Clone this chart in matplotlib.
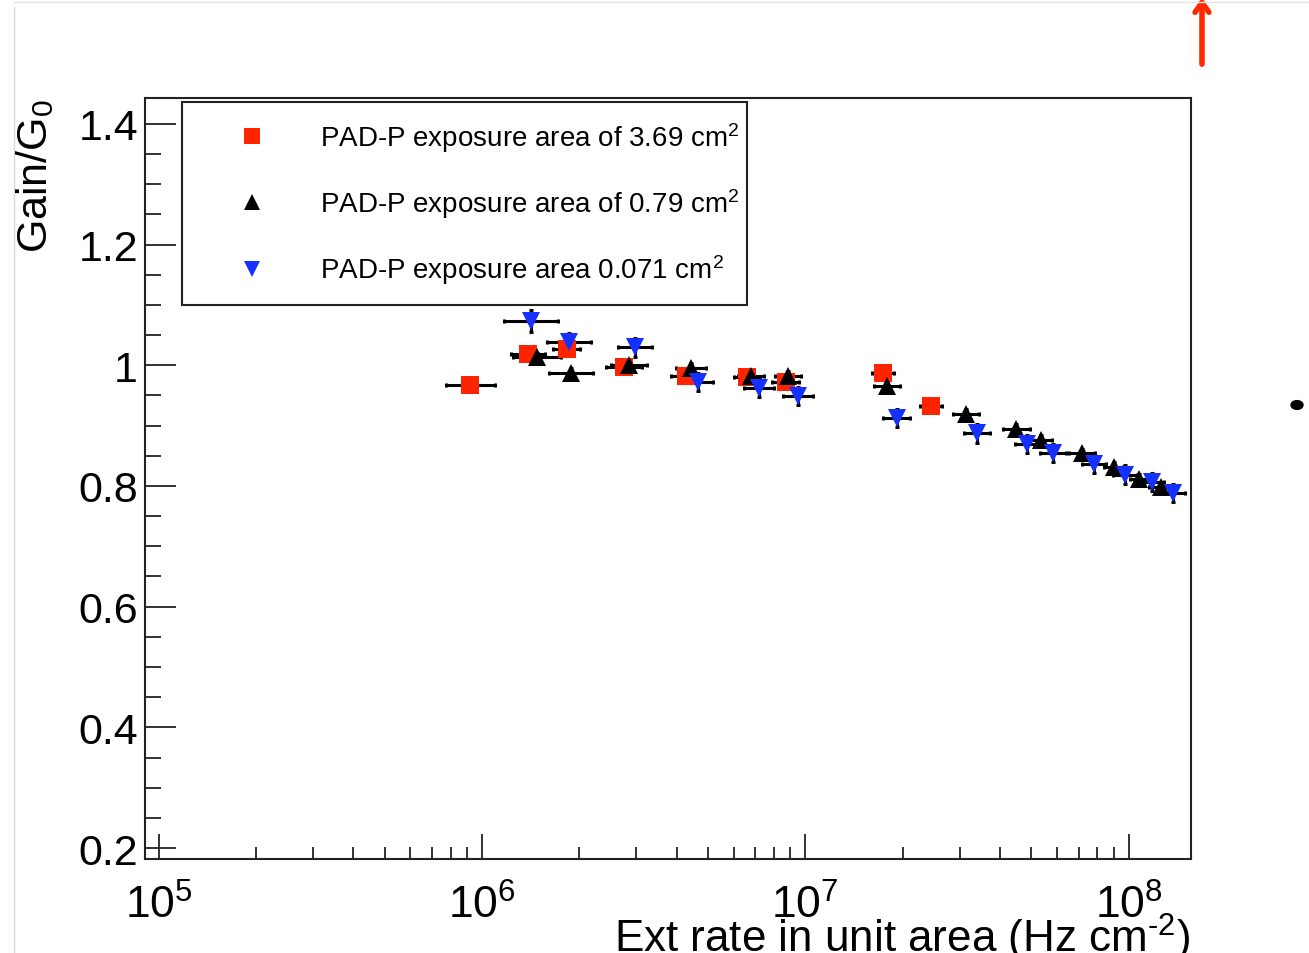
import numpy as np
import matplotlib
matplotlib.use('Agg')
import matplotlib.pyplot as plt
from matplotlib.lines import Line2D
from matplotlib.patches import FancyArrowPatch, Circle
from matplotlib.ticker import FixedLocator, NullFormatter, FixedFormatter

plt.rcParams['font.family'] = ['Liberation Sans', 'DejaVu Sans']
plt.rcParams['mathtext.fontset'] = 'custom'
plt.rcParams['mathtext.rm'] = 'Liberation Sans'
plt.rcParams['mathtext.it'] = 'Liberation Sans:italic'
plt.rcParams['mathtext.bf'] = 'Liberation Sans:bold'
plt.rcParams['mathtext.default'] = 'rm'

# ---------------- data ----------------
rate_a369 = [9.2e5, 1.39e6, 1.83e6, 2.75e6, 4.28e6, 6.6e6, 8.7e6, 1.74e7, 2.45e7]
gain_a369 = [0.967, 1.018, 1.027, 0.997, 0.982, 0.980, 0.972, 0.988, 0.932]
xrel_a369 = [0.19, 0.13, 0.10, 0.14, 0.11, 0.10, 0.10, 0.08, 0.08]
yerr_a369 = [0.008, 0.008, 0.008, 0.008, 0.008, 0.008, 0.008, 0.008, 0.008]

rate_a079 = [1.48e6, 1.88e6, 2.85e6, 4.43e6, 6.8e6, 8.85e6, 1.79e7, 3.14e7,
             4.49e7, 5.36e7, 7.18e7, 9.0e7, 1.08e8, 1.26e8]
gain_a079 = [1.013, 0.987, 1.000, 0.996, 0.983, 0.983, 0.966, 0.919,
             0.894, 0.877, 0.854, 0.832, 0.812, 0.798]
xrel_a079 = [0.19, 0.17, 0.14, 0.11, 0.10, 0.10, 0.10, 0.10,
             0.10, 0.08, 0.10, 0.07, 0.07, 0.09]
yerr_a079 = [0.008, 0.008, 0.008, 0.008, 0.008, 0.008, 0.008, 0.008,
             0.008, 0.008, 0.008, 0.008, 0.008, 0.008]

rate_a0071 = [1.42e6, 1.86e6, 2.97e6, 4.66e6, 7.2e6, 9.5e6, 1.92e7, 3.40e7,
              4.86e7, 5.84e7, 7.82e7, 9.75e7, 1.18e8, 1.37e8]
gain_a0071 = [1.073, 1.038, 1.030, 0.973, 0.963, 0.949, 0.912, 0.887,
              0.869, 0.854, 0.837, 0.819, 0.806, 0.789]
xrel_a0071 = [0.21, 0.17, 0.13, 0.11, 0.11, 0.11, 0.10, 0.10,
              0.09, 0.10, 0.09, 0.09, 0.09, 0.09]
yerr_a0071 = [0.018, 0.016, 0.016, 0.015, 0.015, 0.015, 0.015, 0.015,
              0.015, 0.015, 0.015, 0.015, 0.015, 0.015]

labels = ['PAD-P exposure area of 3.69 cm$^{2}$',
          'PAD-P exposure area of 0.79 cm$^{2}$',
          'PAD-P exposure area 0.071 cm$^{2}$']

x_major = [1e5, 1e6, 1e7, 1e8]
x_major_labels = ['$10^{5}$', '$10^{6}$', '$10^{7}$', '$10^{8}$']
y_major = [0.2, 0.4, 0.6, 0.8, 1.0, 1.2, 1.4]
y_major_labels = ['0.2', '0.4', '0.6', '0.8', '1', '1.2', '1.4']

# ---------------- figure ----------------
W, H = 1309, 954
fig = plt.figure(figsize=(W / 100, H / 100), dpi=100)
ax = fig.add_axes([145 / W, 1 - 860 / H, (1191 - 145) / W, (860 - 99) / H])

RED = '#ff2400'
BLACK = '#000000'
BLUE = '#1531ff'


def xerrs(rate, rel):
    r = np.asarray(rate, float)
    f = np.asarray(rel, float)
    return np.vstack([r - r / (1 + f), r * f])


series = [
    (rate_a369, gain_a369, xrel_a369, yerr_a369, 's', RED, 13.5),
    (rate_a079, gain_a079, xrel_a079, yerr_a079, '^', BLACK, 13),
    (rate_a0071, gain_a0071, xrel_a0071, yerr_a0071, 'v', BLUE, 13.5),
]
for rate, gain, xr, ye, mk, col, ms in series:
    ax.errorbar(rate, gain, xerr=xerrs(rate, xr), yerr=ye, fmt='none',
                ecolor='black', elinewidth=2.2, capsize=1.5, capthick=2.2,
                zorder=2)
for rate, gain, xr, ye, mk, col, ms in series:
    ax.plot(rate, gain, ls='none', marker=mk, color=col, ms=ms,
            markeredgewidth=0, zorder=3)

ax.set_xscale('log')
ax.set_xlim(10 ** 4.958, 10 ** 8.193)
ax.set_ylim(0.1818, 1.443)

ax.xaxis.set_major_locator(FixedLocator(x_major))
ax.xaxis.set_major_formatter(FixedFormatter(x_major_labels))
minors = [m * 10 ** e for e in range(5, 8) for m in range(2, 10)]
ax.xaxis.set_minor_locator(FixedLocator(minors))
ax.xaxis.set_minor_formatter(NullFormatter())

ax.yaxis.set_major_locator(FixedLocator(y_major))
ax.yaxis.set_major_formatter(FixedFormatter(y_major_labels))
ax.yaxis.set_minor_locator(FixedLocator(np.arange(0.2, 1.44, 0.05)))

ax.tick_params(axis='both', which='both', direction='in', top=False,
               right=False, color='#222222', width=1.3)
ax.tick_params(axis='x', which='major', length=18, pad=18, labelsize=32)
ax.tick_params(axis='x', which='minor', length=9)
ax.tick_params(axis='y', which='major', length=22, pad=5, labelsize=31)
ax.tick_params(axis='y', which='minor', length=11.5)
for sp in ax.spines.values():
    sp.set_linewidth(1.5)
    sp.set_color('#222222')

# axis titles (ROOT style: right / top aligned)
fig.text(1190 / W, 1 - 912 / H, r'Ext rate in unit area (Hz cm$^{\text{-}2}$)',
         ha='right', va='top', fontsize=31.7)
fig.text(14 / W, 1 - 99 / H, 'Gain/G$_{0}$', rotation=90,
         ha='left', va='top', fontsize=31)

# legend
handles = [Line2D([], [], ls='none', marker='s', color=RED, ms=12, mew=0),
           Line2D([], [], ls='none', marker='^', color=BLACK, ms=12, mew=0),
           Line2D([], [], ls='none', marker='v', color=BLUE, ms=12, mew=0)]
leg = ax.legend(handles, labels, loc='upper left',
                bbox_to_anchor=(182 / W, 1 - 302 / H, (747 - 182) / W, 199 / H),
                bbox_transform=fig.transFigure, borderaxespad=0, mode='expand',
                fontsize=20, frameon=True, fancybox=False,
                edgecolor='#222222', framealpha=1, borderpad=0.65,
                handlelength=3.75, handletextpad=0.55, labelspacing=1.17)
leg.get_frame().set_linewidth(1.5)

# slide decorations around the picture
fig.add_artist(Line2D([14 / W, 14 / W], [0, 1 - 8 / H],
                      transform=fig.transFigure, color='#d8d8d8', lw=1))
fig.add_artist(Line2D([14 / W, 1], [1 - 3 / H, 1 - 3 / H],
                      transform=fig.transFigure, color='#e4e4e4', lw=1))
fig.add_artist(FancyArrowPatch((1202 / W, 1 - 68 / H), (1202 / W, 1 + 4 / H),
                               transform=fig.transFigure, color='#ff2a00',
                               lw=4, arrowstyle='->,head_length=7,head_width=5'))
fig.add_artist(Circle((1297 / W, 1 - 406 / H), 6 / W,
                      transform=fig.transFigure, color='black'))

fig.savefig('out.png', dpi=100)
